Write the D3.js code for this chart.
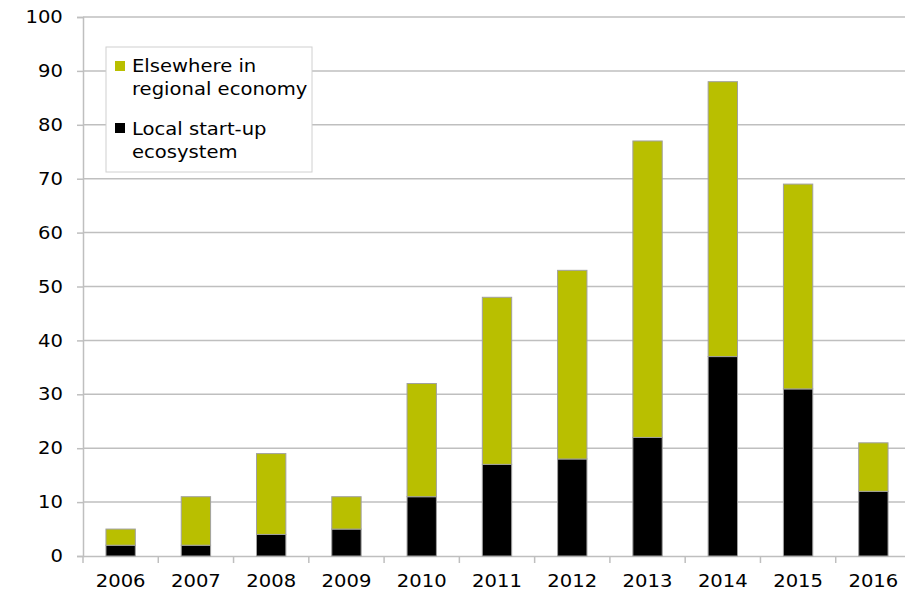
<!DOCTYPE html>
<html><head><meta charset="utf-8">
<script src="https://cdn.jsdelivr.net/npm/d3@7"></script>
<style>body{margin:0;background:#fff}svg{display:block}</style>
</head><body>
<svg id="c" width="905" height="591"></svg>
<script>
const years = ["2006","2007","2008","2009","2010","2011","2012","2013","2014","2015","2016"];
const localEco = [2, 2, 4, 5, 11, 17, 18, 22, 37, 31, 12];
const elsewhere = [3, 9, 15, 6, 21, 31, 35, 55, 51, 38, 9];
const yTicks = [0,10,20,30,40,50,60,70,80,90,100];
const seriesNames = ["Elsewhere in regional economy", "Local start-up ecosystem"];

const svg = d3.select("#c");
const font = "'DejaVu Sans', Verdana, sans-serif";
const FS = 17.5, SX = 1.12;
const x = d3.scaleBand().domain(years).range([83, 911]).paddingInner(0.61).paddingOuter(0.305);
const y = d3.scaleLinear().domain([0, 100]).range([556, 17]);
const band = d3.scaleBand().domain(years).range([83, 911]).padding(0);

// gridlines
svg.append("g").selectAll("line").data(yTicks.filter(d => d > 0)).join("line")
  .attr("x1", 83).attr("x2", 905).attr("y1", d => y(d)).attr("y2", d => y(d))
  .attr("stroke", "#bfbfbf").attr("stroke-width", 1.5);

// y axis
const ya = svg.append("g").attr("transform", "translate(83,0)")
  .call(d3.axisLeft(y).tickValues(yTicks).tickSize(6).tickPadding(12).tickFormat(d3.format("d")));
ya.select(".domain").attr("stroke", "#bfbfbf").attr("stroke-width", 1.5);
ya.selectAll(".tick line").attr("stroke", "#bfbfbf").attr("stroke-width", 1.5);
ya.selectAll("text").attr("font-family", font).attr("font-size", FS).attr("fill", "#000")
  .attr("transform", `scale(${SX},1)`);

// x axis
const xa = svg.append("g").attr("transform", "translate(0,556)")
  .call(d3.axisBottom(band).tickSize(0).tickPadding(19));
xa.select(".domain").attr("stroke", "#bfbfbf").attr("stroke-width", 1.5);
xa.selectAll(".tick line").remove();
xa.selectAll("text").attr("font-family", font).attr("font-size", FS).attr("fill", "#000")
  .attr("transform", `scale(${SX},1)`);
// x tick marks at band boundaries
svg.append("g").selectAll("line").data(years).join("line")
  .attr("x1", d => band(d)).attr("x2", d => band(d)).attr("y1", 556).attr("y2", 563)
  .attr("stroke", "#bfbfbf").attr("stroke-width", 1.5);

// bars
const stack = years.map((yr, i) => ({yr, a: localEco[i], b: elsewhere[i]}));
const g = svg.append("g");
g.selectAll("rect.loc").data(stack).join("rect").attr("class","loc")
  .attr("x", d => x(d.yr)).attr("width", x.bandwidth())
  .attr("y", d => y(d.a)).attr("height", d => y(0) - y(d.a))
  .attr("fill", "#000").attr("stroke", "#a0a0a0").attr("stroke-width", 1);
g.selectAll("rect.els").data(stack).join("rect").attr("class","els")
  .attr("x", d => x(d.yr)).attr("width", x.bandwidth())
  .attr("y", d => y(d.a + d.b)).attr("height", d => y(d.a) - y(d.a + d.b))
  .attr("fill", "#b9bf00").attr("stroke", "#a0a0a0").attr("stroke-width", 1);

// legend
const lg = svg.append("g");
lg.append("rect").attr("x", 106).attr("y", 47).attr("width", 206).attr("height", 125)
  .attr("fill", "#fff").attr("stroke", "#d0d0d0").attr("stroke-width", 1);
const legendItems = [
  {color: "#b9bf00", lines: ["Elsewhere in", "regional economy"], y: 61, base: 72},
  {color: "#000", lines: ["Local start-up", "ecosystem"], y: 123, base: 135}
];
legendItems.forEach(it => {
  lg.append("rect").attr("x", 115).attr("y", it.y).attr("width", 10).attr("height", 10).attr("fill", it.color);
  it.lines.forEach((t, j) => {
    lg.append("text").attr("transform", `translate(132,${it.base + j * 23}) scale(${SX},1)`).text(t)
      .attr("font-family", font).attr("font-size", FS).attr("fill", "#000");
  });
});
</script>
</body></html>
